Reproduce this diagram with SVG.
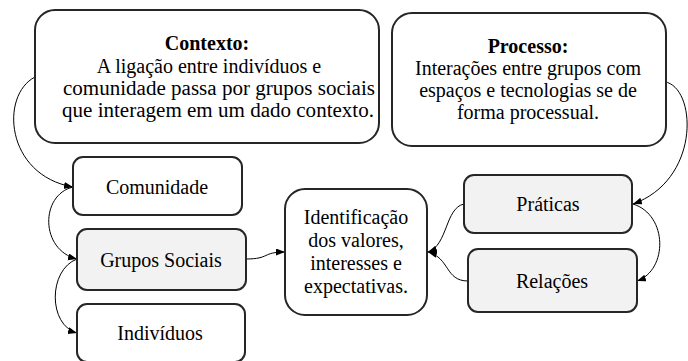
<svg xmlns="http://www.w3.org/2000/svg" width="688" height="361" viewBox="0 0 688 361">
<style>
.box{fill:#ffffff;stroke:#262626;stroke-width:2}
.gray{fill:#f2f2f2}
text{font-family:'Liberation Serif','DejaVu Serif',serif;font-size:20px;fill:#000;text-anchor:middle}
.b{font-weight:bold}
.c{fill:none;stroke:#000;stroke-width:1}
</style>
<defs>
<marker id="arr" markerUnits="userSpaceOnUse" markerWidth="10" markerHeight="8" refX="9" refY="3.5" orient="auto">
<path d="M0,0 L9,3.5 L0,7 z" fill="#000"/>
</marker>
</defs>
<rect width="688" height="361" fill="#fff"/>
<g id="connectors">
<path class="c" d="M35,77 C0,95 5,175 73,187" marker-end="url(#arr)"/>
<path class="c" d="M73,187 C40,195 40,250 77,259" marker-end="url(#arr)"/>
<path class="c" d="M77,259 C48,270 48,325 77,333" marker-end="url(#arr)"/>
<path class="c" d="M246,259 C270,259 262,252 285,252" marker-end="url(#arr)"/>
<path class="c" d="M666,82 C697,90 700,180 633,204" marker-end="url(#arr)"/>
<path class="c" d="M633,204 C668,215 668,270 637,281" marker-end="url(#arr)"/>
<path class="c" d="M464,204 C445,208 448,245 428,252" marker-end="url(#arr)"/>
<path class="c" d="M468,281 C445,281 450,258 428,252" marker-end="url(#arr)"/>
</g>
<g id="contexto">
<rect class="box" x="35" y="10" width="344" height="133" rx="20"/>
<text class="b" x="207" y="50">Contexto:</text>
<text x="209" y="73">A ligação  entre indivíduos e</text>
<text x="219" y="95" textLength="312" lengthAdjust="spacingAndGlyphs">comunidade passa por grupos sociais</text>
<text x="218" y="117" textLength="312" lengthAdjust="spacingAndGlyphs">que interagem  em um dado contexto.</text>
</g>
<g id="processo">
<rect class="box" x="392" y="13" width="274" height="133" rx="20"/>
<text class="b" x="528" y="53">Processo:</text>
<text x="528" y="75">Interações entre grupos com</text>
<text x="528" y="97">espaços e tecnologias se de</text>
<text x="528" y="119">forma processual.</text>
</g>
<g id="comunidade">
<rect class="box" x="73" y="157" width="169" height="58" rx="10"/>
<text x="157" y="194">Comunidade</text>
</g>
<g id="grupos">
<rect class="box gray" x="77" y="229" width="169" height="61" rx="10"/>
<text x="161" y="267">Grupos Sociais</text>
</g>
<g id="individuos">
<rect class="box" x="77" y="304" width="168" height="58" rx="10"/>
<text x="160" y="340">Indivíduos</text>
</g>
<g id="identificacao">
<rect class="box" x="285" y="189" width="142" height="126" rx="20"/>
<text x="356" y="224">Identificação</text>
<text x="356" y="247">dos valores,</text>
<text x="356" y="270">interesses e</text>
<text x="356" y="293">expectativas.</text>
</g>
<g id="praticas">
<rect class="box gray" x="464" y="175" width="168" height="58" rx="10"/>
<text x="548" y="211">Práticas</text>
</g>
<g id="relacoes">
<rect class="box gray" x="468" y="249" width="169" height="63" rx="10"/>
<text x="552" y="288">Relações</text>
</g>
</svg>
